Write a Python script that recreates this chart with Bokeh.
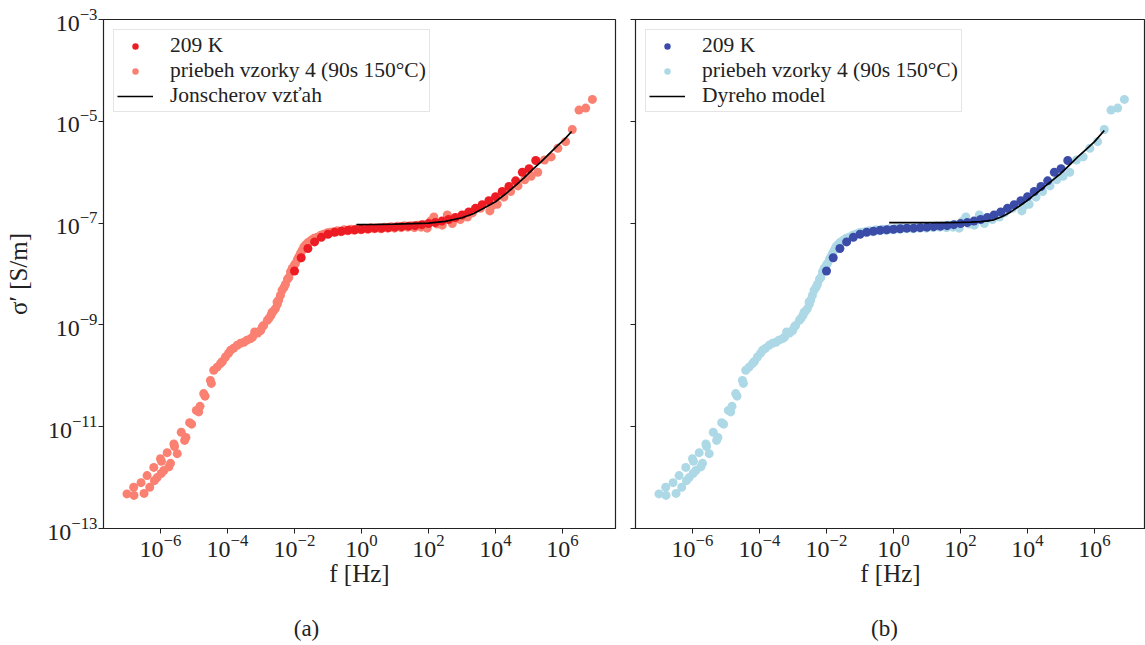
import numpy as np
from bokeh.plotting import figure
from bokeh.models import FixedTicker, Legend, LegendItem, Range1d
from bokeh.layouts import row, column
from bokeh.core.properties import value
from bokeh.embed import file_html
from bokeh.resources import INLINE

# ---- data (log10 values) ----
light_logf = [-7.00, -6.79, -6.80, -6.58, -6.49, -6.40, -6.32, -6.20, -6.18, -6.10,
              -6.00, -5.97, -5.98, -5.90, -5.80, -5.75, -5.70, -5.60, -5.58, -5.50,
              -5.38, -5.28, -5.24, -5.13, -5.07, -4.93, -4.86, -4.82, -4.71, -4.67,
              -4.51, -4.48, -4.41, -4.31, -4.21, -4.15, -4.06, -3.97, -3.91, -3.82,
              -3.71, -3.61, -3.51, -3.42, -3.31, -3.25, -3.19, -3.10, -3.01, -2.96,
              -2.92, -2.81, -2.76, -2.70, -2.67, -2.63, -2.57, -2.51, -2.52, -2.47,
              -2.42, -2.37, -2.31, -2.27, -2.21, -2.17, -2.12, -2.07, -2.01, -1.97,
              -1.91, -1.87, -1.82, -1.77, -1.72, -1.67, -1.61, -1.57, -1.49, -1.42,
              -1.33, -1.22, -1.13, -1.02, -0.93, -0.83,
              -0.72, -0.62, -0.52, -0.42, -0.32, -0.22, -0.12, -0.02, 0.08, 0.18,
              0.28, 0.38, 0.48, 0.58, 0.68, 0.78, 0.88, 0.98, 1.08, 1.18,
              1.28, 1.38, 1.48, 1.58, 1.68, 1.78, 1.88, 1.96, 2.06, 2.16,
              2.26, 2.41, 2.56, 2.71, 2.86, 2.95,
              3.10, 3.16, 3.31, 3.55, 3.83, 3.90, 4.05, 4.25, 4.45, 4.67,
              4.87, 5.06, 5.26, 5.46, 5.66, 5.86, 6.09, 6.29, 6.49, 6.69, 6.89]
light_logs = [-12.32, -12.35, -12.19, -12.10, -12.31, -11.96, -12.19, -11.80, -12.06, -12.00,
              -11.63, -11.68, -11.92, -11.86, -11.51, -11.79, -11.72, -11.34, -11.39, -11.53,
              -11.11, -11.27, -11.21, -10.92, -10.95, -10.68, -10.71, -10.60, -10.35, -10.40,
              -10.09, -10.15, -9.89, -9.83, -9.76, -9.72, -9.63, -9.56, -9.50, -9.46,
              -9.40, -9.36, -9.34, -9.30, -9.27, -9.24, -9.14, -9.16, -9.11, -9.04,
              -9.01, -8.91, -8.87, -8.81, -8.75, -8.73, -8.68, -8.59, -8.55, -8.51,
              -8.42, -8.32, -8.26, -8.20, -8.10, -8.07, -7.96, -7.89, -7.83, -7.79,
              -7.71, -7.66, -7.59, -7.53, -7.47, -7.43, -7.39, -7.37, -7.33, -7.30,
              -7.28, -7.24, -7.22, -7.19, -7.18, -7.17,
              -7.15, -7.17, -7.13, -7.15, -7.12, -7.14, -7.11, -7.13, -7.10, -7.12,
              -7.09, -7.11, -7.09, -7.11, -7.08, -7.10, -7.07, -7.10, -7.06, -7.09,
              -7.05, -7.08, -7.05, -7.09, -7.04, -7.08, -7.03, -7.10, -6.96, -6.88,
              -7.02, -7.04, -6.84, -7.01, -6.91, -6.93,
              -6.84, -6.88, -6.80, -6.71, -6.76, -6.66, -6.63, -6.49, -6.38, -6.27,
              -6.15, -6.08, -6.00, -5.76, -5.70, -5.53, -5.40, -5.16, -4.78, -4.74, -4.57]

dark_logf = [-2.0, -1.8, -1.6, -1.4, -1.2, -1.0, -0.8, -0.6, -0.4, -0.2,
             0.0, 0.2, 0.4, 0.6, 0.8, 1.0, 1.2, 1.4, 1.6, 1.8,
             2.0, 2.2, 2.4, 2.6, 2.8, 3.0, 3.2, 3.4, 3.6, 3.8,
             4.0, 4.2, 4.4, 4.6, 4.8, 5.0, 5.2]
dark_logs = [-7.94, -7.68, -7.50, -7.37, -7.28, -7.22, -7.18, -7.16, -7.14, -7.13,
             -7.12, -7.11, -7.10, -7.10, -7.09, -7.08, -7.07, -7.06, -7.05, -7.03,
             -7.01, -6.99, -6.96, -6.93, -6.89, -6.84, -6.78, -6.71, -6.64, -6.56,
             -6.48, -6.38, -6.28, -6.17, -6.00, -5.93, -5.77]

jonscher_logf = [-0.15, 0.5, 1.0, 1.5, 2.0, 2.5, 3.0, 3.35, 3.7, 4.0,
                 4.35, 4.6, 4.85, 5.1, 5.35, 5.6, 5.85, 6.05, 6.27]
jonscher_logs = [-7.03, -7.025, -7.02, -7.01, -7.00, -6.965, -6.895, -6.81, -6.69, -6.58,
                 -6.40, -6.26, -6.11, -5.95, -5.80, -5.64, -5.48, -5.36, -5.20]

dyre_logf = [-0.13, 0.5, 1.0, 1.5, 2.0, 2.3, 2.6, 2.8, 3.0, 3.25, 3.5,
             3.75, 4.0, 4.25, 4.5, 4.75, 5.0, 5.25, 5.5, 5.75, 6.0, 6.29]
dyre_logs = [-6.99, -6.99, -6.99, -6.99, -6.985, -6.98, -6.97, -6.955, -6.935, -6.87, -6.78,
             -6.67, -6.55, -6.42, -6.29, -6.155, -6.02, -5.86, -5.70, -5.55, -5.40, -5.18]

x_ticks = [1e-6, 1e-4, 1e-2, 1e0, 1e2, 1e4, 1e6]
y_ticks = [1e-13, 1e-11, 1e-9, 1e-7, 1e-5, 1e-3]

labels_a = ["209 K", "priebeh vzorky 4 (90s 150°C)", "Jonscherov vzťah"]
labels_b = ["209 K", "priebeh vzorky 4 (90s 150°C)", "Dyreho model"]
captions = ["(a)", "(b)"]

FONT = "Liberation Serif"


def to_val(a):
    return np.power(10.0, np.array(a))


def panel(width, border_left, border_right, x_end, dark_color, light_color,
          line_f, line_s, labels, show_ylabels):
    p = figure(width=width, height=600, x_axis_type="log", y_axis_type="log",
               x_range=Range1d(10 ** -7.70, 10 ** x_end),
               y_range=Range1d(1e-13, 1e-3),
               output_backend="svg", toolbar_location=None,
               min_border_left=border_left, min_border_right=border_right,
               min_border_top=19, min_border_bottom=72)
    p.xgrid.visible = False
    p.ygrid.visible = False
    p.outline_line_color = "#222222"
    p.outline_line_width = 1.2
    p.background_fill_color = "white"
    p.border_fill_color = "white"

    p.xaxis.ticker = FixedTicker(ticks=x_ticks, minor_ticks=[])
    p.yaxis.ticker = FixedTicker(ticks=y_ticks, minor_ticks=[])
    for ax in (p.xaxis, p.yaxis):
        ax.axis_line_color = "#222222"
        ax.major_tick_line_color = "#222222"
        ax.major_tick_out = 5
        ax.major_tick_in = 0
        ax.minor_tick_out = 0
        ax.minor_tick_in = 0
        ax.major_label_text_font = FONT
        ax.major_label_text_font_size = "24px"
        ax.major_label_text_color = "#222222"
        ax.axis_label_text_font = FONT
        ax.axis_label_text_font_size = "25px"
        ax.axis_label_text_font_style = "normal"
        ax.axis_label_text_color = "#222222"
    p.xaxis.major_label_standoff = 1
    p.xaxis.axis_label = "f [Hz]"
    p.xaxis.axis_label_standoff = 0
    if show_ylabels:
        p.yaxis.axis_label = "σ′ [S/m]"
        p.yaxis.major_label_standoff = 1
        p.yaxis.axis_label_standoff = 12
    else:
        p.yaxis.major_label_text_font_size = "1px"
        p.yaxis.major_label_text_alpha = 0.0
        p.yaxis.major_label_standoff = 0

    r_light = p.scatter(to_val(light_logf), to_val(light_logs), size=9,
                        fill_color=light_color, line_color=None)
    r_dark = p.scatter(to_val(dark_logf), to_val(dark_logs), size=9,
                       fill_color=dark_color, line_color=None)
    r_line = p.line(to_val(line_f), to_val(line_s), line_color="black", line_width=1.7)

    legend = Legend(items=[LegendItem(label=labels[0], renderers=[r_dark]),
                           LegendItem(label=labels[1], renderers=[r_light]),
                           LegendItem(label=labels[2], renderers=[r_line])],
                    location="top_left")
    legend.label_text_font = FONT
    legend.label_text_font_size = "21.5px"
    legend.label_text_color = "#222222"
    legend.glyph_width = 36
    legend.glyph_height = 16
    legend.label_height = 16
    legend.spacing = 0
    legend.padding = 3
    legend.margin = 10
    legend.label_standoff = 17
    legend.border_line_color = "#cccccc"
    legend.border_line_width = 1
    legend.background_fill_alpha = 0.85
    p.add_layout(legend)
    return p


pa = panel(624, 103, 9, 7.58, "#ed1c24", "#fa8072",
           jonscher_logf, jonscher_logs, labels_a, True)
pb = panel(521, 11, 0, 7.52, "#3b4ca8", "#add8e6",
           dyre_logf, dyre_logs, labels_b, False)

# caption strip under both panels
cap = figure(width=1145, height=45, x_range=Range1d(0, 1145), y_range=Range1d(0, 45),
             output_backend="svg", toolbar_location=None,
             x_axis_location=None, y_axis_location=None, min_border=0)
cap.outline_line_color = None
cap.xgrid.visible = False
cap.ygrid.visible = False
cap.text(x=[306, 884], y=[17, 17], text=captions, text_font=value(FONT),
         text_font_size="23px", text_color="#222222",
         text_align="center", text_baseline="middle")

layout = column(row(pa, pb), cap)
open("out.html", "w").write(file_html(layout, INLINE))
